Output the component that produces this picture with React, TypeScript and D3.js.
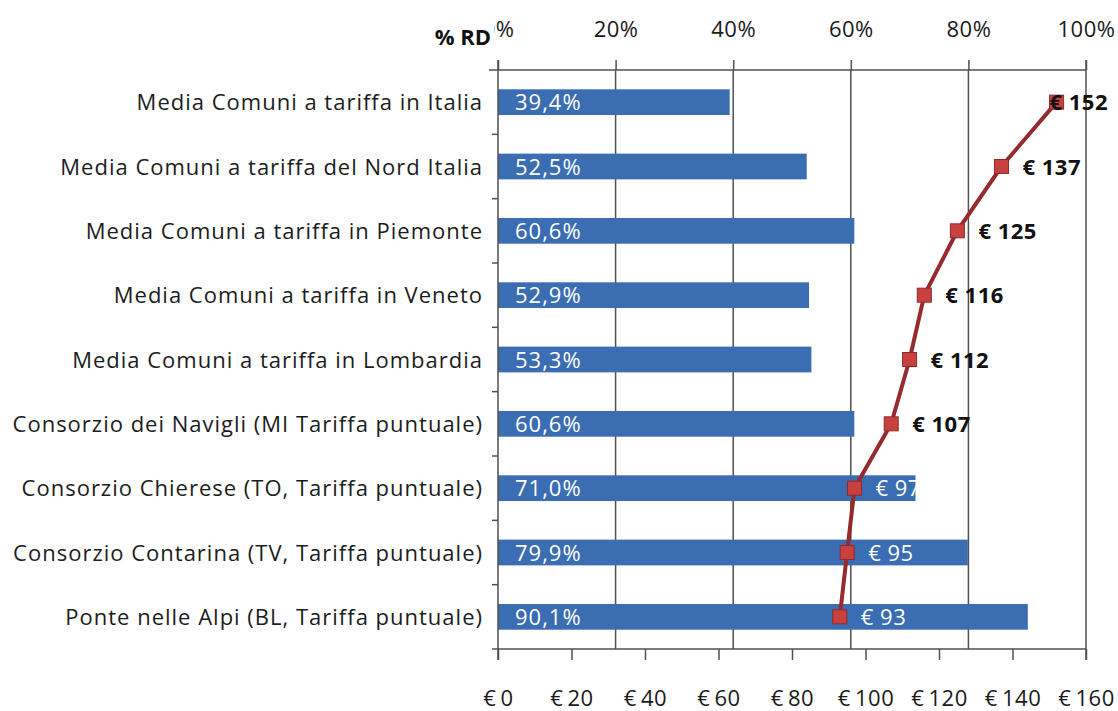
import React, { useEffect, useRef } from 'react';
import * as d3 from 'd3';

// categorie (dall'alto in basso)
const categories = [
  'Media Comuni a tariffa in Italia',
  'Media Comuni a tariffa del Nord Italia',
  'Media Comuni a tariffa in Piemonte',
  'Media Comuni a tariffa in Veneto',
  'Media Comuni a tariffa in Lombardia',
  'Consorzio dei Navigli (MI Tariffa puntuale)',
  'Consorzio Chierese (TO, Tariffa puntuale)',
  'Consorzio Contarina (TV, Tariffa puntuale)',
  'Ponte nelle Alpi (BL, Tariffa puntuale)',
];

// % raccolta differenziata
const rdValues = [0.394, 0.525, 0.606, 0.529, 0.533, 0.606, 0.71, 0.799, 0.901];

// costo pro capite in euro
const costValues = [152, 137, 125, 116, 112, 107, 97, 95, 93];

const pctTicks = [0, 0.2, 0.4, 0.6, 0.8, 1];
const euroTicks = [0, 20, 40, 60, 80, 100, 120, 140, 160];

const W = 1118;
const H = 711;
const FONT = '"Open Sans", "DejaVu Sans", sans-serif';

export default function App() {
  const ref = useRef<SVGSVGElement>(null);

  useEffect(() => {
    const svg = d3.select(ref.current);
    svg.selectAll('*').remove();

    const left = 498;
    const right = 1086;
    const top = 70;
    const bottom = 649;
    const axisColor = '#505050';

    const it = d3.formatLocale({
      decimal: ',',
      thousands: '.',
      grouping: [3],
      currency: ['€ ', ''],
    });
    const fmtPct = it.format('.1%');

    // scale
    const x = d3.scaleLinear().domain([0, 1]).range([left, right]);
    const xEuro = d3.scaleLinear().domain([0, 160]).range([left, right]);
    const y = d3.scaleBand<string>().domain(categories).range([top, bottom]);
    const barH = y.bandwidth() * 0.4;
    const cy = (c: string) => (y(c) as number) + y.bandwidth() / 2;

    // griglia verticale
    svg.append('g')
      .selectAll('line')
      .data(pctTicks.slice(1, -1))
      .join('line')
      .attr('x1', d => x(d))
      .attr('x2', d => x(d))
      .attr('y1', top)
      .attr('y2', bottom)
      .attr('stroke', axisColor)
      .attr('stroke-width', 1.5);

    // barre %RD
    svg.append('g')
      .selectAll('rect')
      .data(categories)
      .join('rect')
      .attr('x', x(0))
      .attr('y', d => cy(d) - barH / 2)
      .attr('width', (d, i) => x(rdValues[i]) - x(0))
      .attr('height', barH)
      .attr('fill', '#3a6db2');

    svg.append('g')
      .selectAll('text')
      .data(categories)
      .join('text')
      .attr('x', x(0) + 17)
      .attr('y', d => cy(d) + 8)
      .attr('fill', '#fff')
      .attr('font-family', FONT)
      .attr('font-size', 22)
      .attr('letter-spacing', 1)
      .text((d, i) => fmtPct(rdValues[i]));

    // asse superiore (%)
    const topAxis = svg.append('g')
      .attr('transform', `translate(0,${top})`)
      .call(d3.axisTop(x).tickValues(pctTicks).tickFormat(d3.format('.0%')).tickSize(10).tickSizeOuter(0).tickPadding(23));
    topAxis.select('.domain').attr('d', `M${left - 9},0H${right}`);

    // asse inferiore (€)
    const botAxis = svg.append('g')
      .attr('transform', `translate(0,${bottom})`)
      .call(d3.axisBottom(xEuro).tickValues(euroTicks).tickFormat(d => `€\u2009${d}`).tickSize(11).tickSizeOuter(0).tickPadding(30));
    botAxis.select('.domain').attr('d', `M${left - 6},0H${right}`);

    // asse categorie
    const leftAxis = svg.append('g').attr('transform', `translate(${left},0)`);
    leftAxis.append('line')
      .attr('y1', top - 10).attr('y2', bottom + 11)
      .attr('stroke', axisColor).attr('stroke-width', 1.5);
    leftAxis.selectAll('line.tick')
      .data(categories.slice(1))
      .join('line')
      .attr('class', 'tick')
      .attr('x1', -6).attr('x2', 0)
      .attr('y1', d => y(d) as number)
      .attr('y2', d => y(d) as number)
      .attr('stroke', axisColor).attr('stroke-width', 1.5);
    leftAxis.selectAll('text')
      .data(categories)
      .join('text')
      .attr('x', -15)
      .attr('y', d => cy(d) + 8)
      .attr('text-anchor', 'end')
      .attr('fill', '#1c1c1c')
      .attr('font-family', FONT)
      .attr('font-size', 22)
      .attr('letter-spacing', 1)
      .text(d => d);

    // bordo destro
    svg.append('line')
      .attr('x1', right).attr('x2', right)
      .attr('y1', top - 10).attr('y2', bottom + 11)
      .attr('stroke', axisColor).attr('stroke-width', 1.5);

    [topAxis, botAxis].forEach(a => {
      a.selectAll('.domain, .tick line').attr('stroke', axisColor).attr('stroke-width', 1.5);
      a.selectAll('.tick text')
        .attr('font-family', FONT)
        .attr('font-size', 22)
        .attr('letter-spacing', 0.5)
        .attr('fill', '#1a1a1a');
    });

    // titolo asse %
    svg.append('rect').attr('x', 426).attr('y', 18).attr('width', 68).attr('height', 32).attr('fill', '#fff');
    svg.append('text')
      .attr('x', 491).attr('y', 45)
      .attr('text-anchor', 'end')
      .attr('font-family', FONT).attr('font-size', 22).attr('font-weight', 'bold')
      .attr('fill', '#111')
      .text('% RD');

    // linea costi
    const line = d3.line<number>()
      .x(d => xEuro(d))
      .y((d, i) => cy(categories[i]));

    svg.append('path')
      .datum(costValues)
      .attr('d', line)
      .attr('fill', 'none')
      .attr('stroke', '#962a2d')
      .attr('stroke-width', 4);

    svg.append('g')
      .selectAll('rect')
      .data(costValues)
      .join('rect')
      .attr('x', d => xEuro(d) - 7)
      .attr('y', (d, i) => cy(categories[i]) - 7)
      .attr('width', 14)
      .attr('height', 14)
      .attr('fill', '#c9413f')
      .attr('stroke', '#8e2a2a')
      .attr('stroke-width', 1);

    // etichette costi
    const inside = (d: number, i: number) => xEuro(d) < x(rdValues[i]);
    const labels = svg.append('g')
      .selectAll('text')
      .data(costValues)
      .join('text')
      .attr('x', d => xEuro(d) + 21)
      .attr('y', (d, i) => cy(categories[i]) + 8)
      .attr('font-family', FONT)
      .attr('font-size', 22)
      .attr('letter-spacing', 0.5)
      .attr('font-weight', (d, i) => (inside(d, i) ? 'normal' : 'bold'))
      .attr('fill', (d, i) => (inside(d, i) ? '#fff' : '#111'))
      .text(d => `€ ${d}`);

    labels.each(function () {
      const t = this as SVGTextElement;
      const w = t.getComputedTextLength();
      const lx = +t.getAttribute('x')!;
      if (lx + w > W - 10) t.setAttribute('x', String(W - 10 - w));
    });
  }, []);

  return (
    <svg
      ref={ref}
      width={W}
      height={H}
      style={{ position: 'absolute', left: 0, top: 0, background: '#fff' }}
    />
  );
}
